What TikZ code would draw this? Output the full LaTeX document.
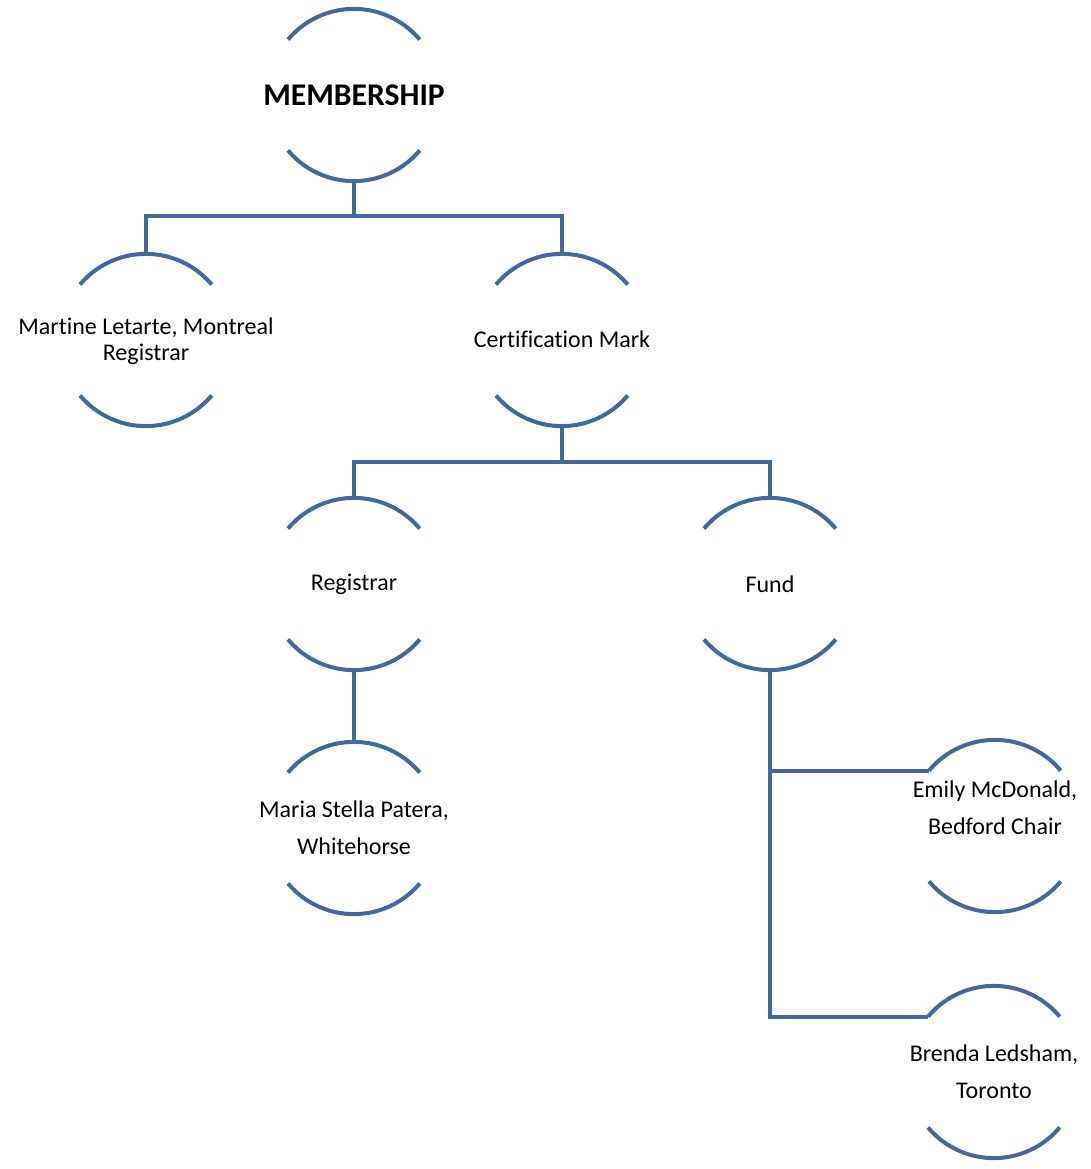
\documentclass[tikz,border=0pt]{standalone}
\usepackage{fontspec}
\setmainfont{Carlito}[Ligatures={NoCommon,NoRequired,NoContextual}]
\definecolor{arcblue}{HTML}{41699D}
\begin{document}
\begin{tikzpicture}[x=1pt,y=-1pt,
  circ/.style={circle,minimum size=172pt,inner sep=0pt,draw=none},
  txt/.style={align=center,font=\fontsize{24}{37}\selectfont,inner sep=0pt},
  arcline/.style={draw=arcblue,line width=4pt},
  conn/.style={draw=arcblue,line width=4pt}]
\useasboundingbox (0,0) rectangle (1090,1169);
\newcommand{\arcnode}[2]{%
  \draw[arcline] (#1.140) arc[start angle=140,end angle=40,radius=86pt];
  \draw[arcline] (#1.220) arc[start angle=220,end angle=320,radius=86pt];}
% nodes
\node[circ] (mem) at (354,95) {};
\node[txt,font=\fontsize{31.6}{37}\bfseries\selectfont] (memt) at (354,95) {MEMBERSHIP};
\node[circ] (mar) at (146,340) {};
\node[txt,font=\fontsize{24}{26}\selectfont] (mart) at (146,341) {Martine Letarte, Montreal\\Registrar};
\node[circ] (cert) at (562,340) {};
\node[txt] (certt) at (562,339) {Certification Mark};
\node[circ] (reg) at (354,584) {};
\node[txt] (regt) at (354,584) {Registrar};
\node[circ] (fund) at (770,584) {};
\node[txt] (fundt) at (770,584) {Fund};
\node[circ] (mari) at (354,828) {};
\node[txt] (marit) at (354,828) {Maria Stella Patera,\\Whitehorse};
\node[circ] (emi) at (995,826) {};
\node[txt] (emit) at (995,808) {Emily McDonald,\\Bedford Chair};
\node[circ] (bre) at (994,1072) {};
\node[txt] (bret) at (994,1072) {Brenda Ledsham,\\Toronto};
\foreach \n in {mem,mar,cert,reg,fund,mari,emi,bre}{\arcnode{\n}{}}
% connectors
\draw[conn] (mem.south) -- ++(0,35) -| (mar.north);
\draw[conn] (mem.south) -- ++(0,35) -| (cert.north);
\draw[conn] (cert.south) -- ++(0,36) -| (reg.north);
\draw[conn] (cert.south) -- ++(0,36) -| (fund.north);
\draw[conn] (reg.south) -- (mari.north);
\draw[conn] (fund.south) |- (emi.140);
\draw[conn] (fund.south) |- (bre.140);
\end{tikzpicture}
\end{document}
